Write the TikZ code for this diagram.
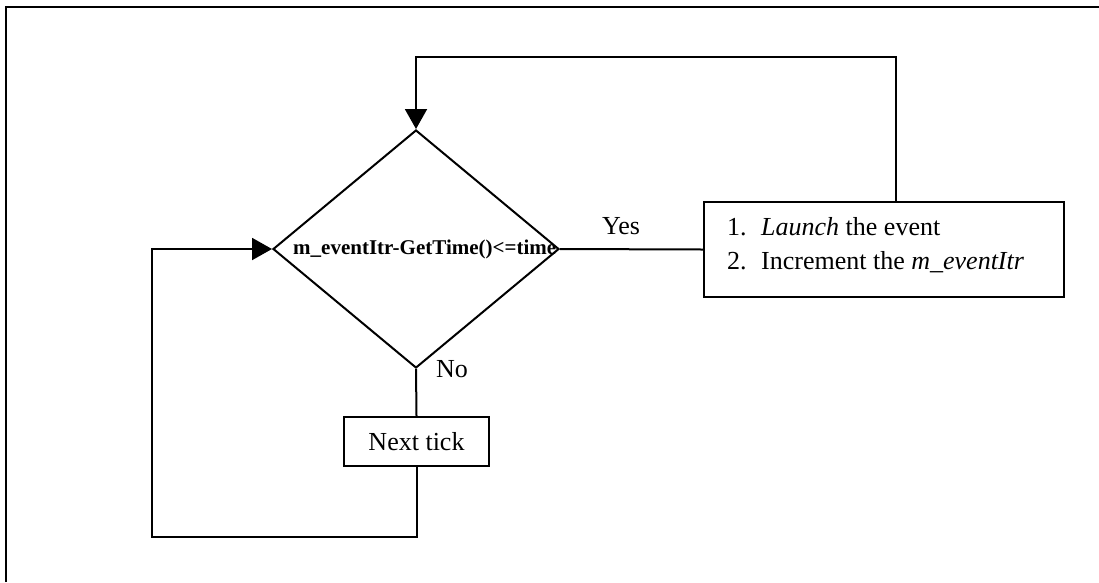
\documentclass[tikz,border=0pt]{standalone}
\usepackage{fontspec}
\setmainfont{Liberation Serif}
\usetikzlibrary{shapes.geometric,arrows.meta}
\begin{document}
\begin{tikzpicture}[x=1pt,y=-1pt,
  line/.style={line width=2pt,line join=miter},
  flow/.style={line, -{Triangle[length=20pt,width=22pt]}},
  procbox/.style={draw,line width=2pt,rectangle,inner sep=0pt},
  decide/.style={draw,line width=2pt,diamond,inner sep=0pt},
  txt/.style={font=\fontsize{26}{34}\selectfont,inner sep=0pt}]
\useasboundingbox (0,0) rectangle (1099,582);
% outer frame
\draw[line width=2.6pt] (6,582) -- (6,7) -- (1099,7);

% decision
\node[decide,minimum width=286pt,minimum height=238pt] (dia) at (416,249) {};
\node[inner sep=0pt,anchor=base west,font=\fontsize{21}{24}\selectfont\bfseries] (cond) at (293,254) {m\_eventItr-GetTime()<=time};

% process box
\node[procbox,minimum width=360pt,minimum height=95pt] (box) at (884,249.5) {};
\node[txt,anchor=base west] (steps) at (727,235)
  {\begin{tabular}[t]{@{}l@{\hspace{14.5pt}}l@{}}1. & \textit{Launch} the event\\2. & Increment the \textit{m\_eventItr}\end{tabular}};

% next tick box
\node[procbox,minimum width=145pt,minimum height=49pt,txt] (tick) at (416.5,441.5) {Next tick};

% labels
\node[txt,anchor=base] (yes) at (621,234) {Yes};
\node[txt,anchor=base] (no) at (452,377) {No};

% connectors
\coordinate (up) at (896,57);
\coordinate (bl) at (152,537);
\draw[line] (dia.east) -- (box.west);
\draw[flow] (box.north -| up) -- (up) -- (up -| dia.north) -- (dia.north);
\draw[line] (dia.south) -- (tick.north);
\draw[flow] (tick.south) |- (bl) |- (dia.west);
\end{tikzpicture}
\end{document}
